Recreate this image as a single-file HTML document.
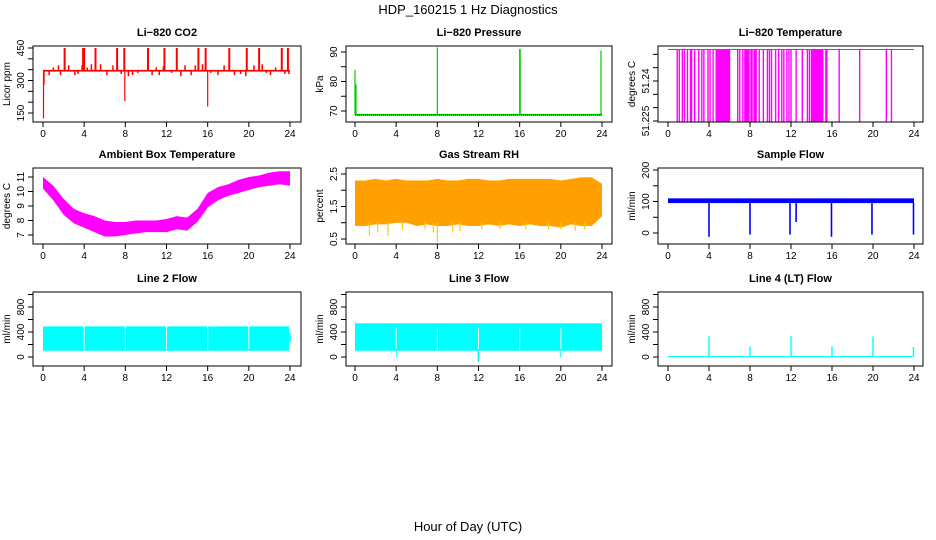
<!DOCTYPE html>
<html><head><meta charset="utf-8"><style>
html,body{margin:0;padding:0;background:#fff}
svg{display:block;font-family:"Liberation Sans",sans-serif}
.t{font-size:11px;font-weight:bold;text-anchor:middle}
.tk{font-size:10px;text-anchor:middle}
</style></head><body>
<svg id="c" width="936" height="540" viewBox="0 0 936 540">
<text x="468" y="14" font-size="13" text-anchor="middle">HDP_160215  1 Hz Diagnostics</text>
<text x="468" y="531" font-size="13" text-anchor="middle">Hour of Day (UTC)</text>
</svg>
<script>
// ---- data ----
const xTicks=[0,4,8,12,16,20,24];
const co2Base=[345,345];
const co2UpTimes=[2.1,3.9,4.0,5.1,7.2,7.9,10.2,11.8,13.0,15.1,15.8,18.1,19.8,21.0,23.2,23.8];
const co2UpVals=[450,450,450,450,450,450,450,450,450,450,450,450,450,450,450,450];
const co2SmallTimes=[0.6,1.0,1.5,1.7,2.5,3.1,3.4,3.8,4.3,4.7,5.6,6.2,6.8,7.6,8.3,8.7,9.2,10.6,11.0,11.3,11.7,12.5,13.4,13.8,14.4,14.8,15.5,16.3,17.0,17.6,18.6,19.2,19.7,20.5,21.3,21.7,22.1,22.6,23.5,23.9];
const co2SmallVals=[325,360,370,325,370,325,330,370,360,375,375,325,370,330,320,325,335,325,360,325,365,335,320,370,325,370,375,335,325,370,325,330,320,370,375,335,325,360,330,330];
const co2DownTimes=[0.05,0.1,7.95,16.0];
const co2DownVals=[125,280,205,180];
const presBase=[68.7];
const presSpikeTimes=[0.0,0.1,8.0,16.0,16.05,23.9];
const presSpikeVals=[84,79,91.5,91,91,90.5];
const ltempTop=[51.2518];
const ltempDrops=[0.9,1.1,1.4,1.6,1.9,2.2,2.3,2.6,3.0,3.3,3.5,3.9,4.1,4.4,4.7,4.8,4.9,5.0,5.1,5.2,5.3,5.4,5.5,5.6,5.7,5.8,5.9,6.0,6.8,7.0,7.3,7.5,7.6,7.7,7.8,7.9,8.1,8.2,8.4,8.5,8.6,8.9,9.3,9.7,9.9,10.1,10.5,10.8,11.1,11.3,11.6,11.8,12.0,12.5,13.1,13.6,13.8,14.0,14.1,14.2,14.3,14.4,14.5,14.6,14.7,14.8,14.9,15.0,15.1,15.4,15.5,16.7,18.7,21.3,21.8];
const ltempBottom=[51.2245];
const ambHours=[0,1,2,3,4,5,6,7,8,9,10,11,12,13,14,15,16,17,18,19,20,21,22,23,24];
const ambLo=[10.2,9.4,8.4,7.8,7.5,7.2,6.9,6.9,7.0,7.1,7.2,7.2,7.2,7.4,7.3,7.9,8.9,9.4,9.7,9.9,10.1,10.3,10.4,10.5,10.4];
const ambHi=[11.0,10.4,9.5,8.8,8.5,8.3,8.0,7.9,7.9,8.0,8.0,8.0,8.1,8.3,8.2,8.8,9.9,10.3,10.5,10.8,11.0,11.1,11.3,11.4,11.4];
const rhHours=[0,1,2,3,4,5,6,7,8,9,10,11,12,13,14,15,16,17,18,19,20,21,22,23,24];
const rhLo=[0.9,0.9,0.95,0.95,1.0,1.0,0.9,0.95,0.9,0.9,0.95,0.9,0.9,0.95,0.9,0.95,0.9,0.95,0.9,0.9,0.85,0.95,0.9,0.9,1.2];
const rhHi=[2.3,2.3,2.35,2.3,2.35,2.3,2.3,2.3,2.35,2.3,2.3,2.35,2.35,2.3,2.3,2.35,2.35,2.35,2.35,2.35,2.3,2.35,2.4,2.4,2.2];
const rhDipTimes=[1.4,2.2,3.2,4.6,6.8,7.6,8.0,9.5,10.2,12.3,14.1,16.6,18.8,20.0,21.4,22.3];
const rhDipVals=[0.6,0.7,0.6,0.8,0.8,0.7,0.4,0.7,0.75,0.8,0.8,0.8,0.8,0.8,0.75,0.8];
const sfBaseLo=[95];
const sfBaseHi=[110];
const sfDipTimes=[4.0,8.0,11.9,12.5,15.95,19.9,23.95];
const sfDipVals=[-12,-5,-5,35,-12,-5,-5];
const l2Lo=[100];
const l2Hi=[490];
const l2Gaps=[4.0,8.0,12.0,16.0,20.0];
const l3Lo=[100];
const l3Hi=[540];
const l3Gaps=[4.0,8.0,12.0,16.0,20.0];
const l3DipTimes=[4.05,11.95,12.05,19.95];
const l3DipVals=[-10,-80,-80,-10];
const l4Base=[8];
const l4SpikeTimes=[4.0,8.0,12.0,16.0,20.0,23.95];
const l4SpikeVals=[330,170,340,170,330,160];

// ---- drawing ----
const svg=document.getElementById('c');
const NS='http://www.w3.org/2000/svg';
function el(tag,attrs,parent,txt){const e=document.createElementNS(NS,tag);for(const k in attrs)e.setAttribute(k,attrs[k]);if(txt!==undefined)e.textContent=txt;(parent||svg).appendChild(e);return e;}
const cols=[{b0:33,b1:301,x0:43,x24:290},{b0:346,b1:612,x0:355,x24:602},{b0:658,b1:923,x0:668,x24:914}];
const rows=[{t:46,b:122},{t:168,b:244},{t:292,b:366}];
function panel(name,title,ci,ri,yv1,yp1,yv2,yp2,ticks,labels,ylab){
  const c=cols[ci],r=rows[ri];
  const g=el('g',{});
  
  
  const sx=v=>c.x0+(c.x24-c.x0)*v/24;
  const sy=v=>yp1+(yp2-yp1)*(v-yv1)/(yv2-yv1);
  const tt=el('text',{x:(c.b0+c.b1)/2,y:r.t-10,class:'t'},g,title);
  
  
  const data=el('g',{},g);
  
  
  el('rect',{x:c.b0,y:r.t,width:c.b1-c.b0,height:r.b-r.t,fill:'none',stroke:'#000','stroke-width':1},g);
  const ax=el('g',{stroke:'#000','stroke-width':1},g);
  
  
  xTicks.forEach(v=>{el('line',{x1:sx(v),x2:sx(v),y1:r.b,y2:r.b+5},ax);
    el('text',{x:sx(v),y:r.b+15,class:'tk',stroke:'none'},ax,String(v));});
  const ay=el('g',{stroke:'#000','stroke-width':1},g);
  
  
  ticks.forEach(v=>{const y=sy(v);el('line',{x1:c.b0-5,x2:c.b0,y1:y,y2:y},ay);});
  labels.forEach(v=>{const y=sy(v);el('text',{x:0,y:0,class:'tk',stroke:'none',transform:`translate(${c.b0-9},${y}) rotate(-90)`},ay,String(v));});
  const yl=el('text',{x:0,y:0,class:'tk',transform:`translate(${c.b0-23},${(r.t+r.b)/2}) rotate(-90)`},g,ylab);
  
  
  return {sx,sy,g:data};
}
function vline(p,x,v1,v2,col,w){el('line',{x1:p.sx(x),x2:p.sx(x),y1:p.sy(v1),y2:p.sy(v2),stroke:col,'stroke-width':w||1.2},p.g);}
function hband(p,t1,t2,lo,hi,fill){const y1=p.sy(hi),y2=p.sy(lo);el('rect',{x:p.sx(t1),y:Math.min(y1,y2),width:p.sx(t2)-p.sx(t1),height:Math.max(1,Math.abs(y2-y1)),fill:fill},p.g);}
function band(p,hrs,lo,hi,fill){let pts=hrs.map((h,i)=>p.sx(h)+','+p.sy(hi[i]));for(let i=hrs.length-1;i>=0;i--)pts.push(p.sx(hrs[i])+','+p.sy(lo[i]));el('polygon',{points:pts.join(' '),fill:fill},p.g);}

// CO2
let p=panel('co2-panel','Li\u2212820 CO2',0,0,450,48,150,113,[150,200,250,300,350,400,450],[150,300,450],'Licor ppm');
hband(p,0,24,co2Base[0]-4,co2Base[0]+4,'#ff0000');
co2UpTimes.forEach((t,i)=>vline(p,t,co2Base[0],co2UpVals[i],'#ff0000',2));
co2SmallTimes.forEach((t,i)=>vline(p,t,co2Base[0],co2SmallVals[i],'#ff0000',1.5));
co2DownTimes.forEach((t,i)=>vline(p,t,co2Base[0],co2DownVals[i],'#ff0000',1.2));

// Pressure
p=panel('pressure-panel','Li\u2212820 Pressure',1,0,90,52,70,111,[70,75,80,85,90],[70,80,90],'kPa');
hband(p,0,24,presBase[0]-0.3,presBase[0]+0.3,'#00dd00');
el('line',{x1:p.sx(0),x2:p.sx(24),y1:p.sy(presBase[0]),y2:p.sy(presBase[0]),stroke:'#000','stroke-dasharray':'1,1'},p.g);
presSpikeTimes.forEach((t,i)=>vline(p,t,presBase[0],presSpikeVals[i],'#00cc00',1.2));

// Li temp
p=panel('li-temperature-panel','Li\u2212820 Temperature',2,0,51.240,81,51.225,121,[51.225,51.230,51.235,51.240,51.245,51.250],[51.225,51.240],'degrees C');
el('line',{x1:p.sx(0),x2:p.sx(24),y1:p.sy(ltempTop[0]),y2:p.sy(ltempTop[0]),stroke:'#ff00ff','stroke-width':1},p.g);
ltempDrops.forEach(t=>vline(p,t,ltempTop[0],ltempBottom[0],'#ff00ff',1.4));

// Ambient
p=panel('ambient-temperature-panel','Ambient Box Temperature',0,1,11,177,7,235,[7,8,9,10,11],[7,8,9,10,11],'degrees C');
band(p,ambHours,ambLo,ambHi,'#ff00ff');

// RH
p=panel('gas-stream-rh-panel','Gas Stream RH',1,1,2.5,174,0.5,239,[0.5,1,1.5,2,2.5],[0.5,1.5,2.5],'percent');
band(p,rhHours,rhLo,rhHi,'#ffa000');
rhDipTimes.forEach((t,i)=>vline(p,t,1.0,rhDipVals[i],'#ffcc00',1.2));

// Sample flow
p=panel('sample-flow-panel','Sample Flow',2,1,200,170,0,233,[0,50,100,150,200],[0,100,200],'ml/min');
hband(p,0,24,sfBaseLo[0],sfBaseHi[0],'#0000ff');
sfDipTimes.forEach((t,i)=>vline(p,t,sfBaseLo[0],sfDipVals[i],'#0000ff',1.6));

// Line 2
p=panel('line-2-flow-panel','Line 2 Flow',0,2,800,307,0,357,[0,200,400,600,800,1000],[0,400,800],'ml/min');
hband(p,0,23.9,l2Lo[0],l2Hi[0],'#00ffff');
l2Gaps.forEach(t=>vline(p,t,l2Lo[0]+30,l2Hi[0]+5,'#ffffff',1));
vline(p,24,240,380,'#00ffff',1.5);

// Line 3
p=panel('line-3-flow-panel','Line 3 Flow',1,2,800,307,0,357,[0,200,400,600,800,1000],[0,400,800],'ml/min');
hband(p,0,24,l3Lo[0],l3Hi[0],'#00ffff');
l3Gaps.forEach(t=>vline(p,t,l3Lo[0]+30,l3Hi[0]-80,'#ffffff',1));
l3DipTimes.forEach((t,i)=>vline(p,t,l3Lo[0],l3DipVals[i],'#00ffff',1));

// Line 4
p=panel('line-4-flow-panel','Line 4 (LT) Flow',2,2,800,307,0,357,[0,200,400,600,800,1000],[0,400,800],'ml/min');
hband(p,0,24,l4Base[0]-8,l4Base[0]+8,'#00ffff');
l4SpikeTimes.forEach((t,i)=>vline(p,t,l4Base[0],l4SpikeVals[i],'#00ffff',1.4));
</script>
</body></html>
